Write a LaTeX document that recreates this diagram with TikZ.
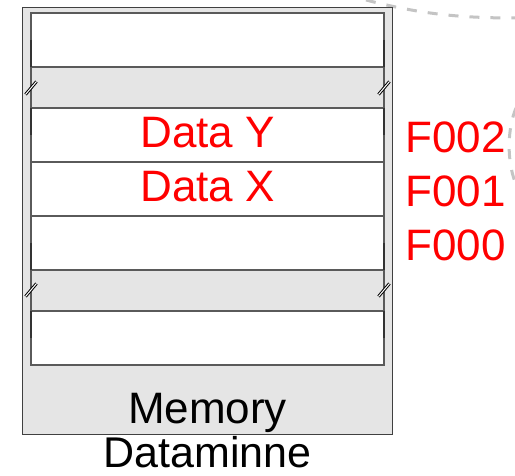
\documentclass[tikz,border=0pt]{standalone}
\usepackage{fontspec}
\setmainfont{Liberation Sans}
\usepackage{xcolor}
\usepackage{tikz}
\usetikzlibrary{positioning}

\definecolor{bandgray}{HTML}{E5E5E5}
\definecolor{edgegray}{HTML}{5A5A5A}
\definecolor{arcgray}{HTML}{C4C4C4}

\begin{document}
\begin{tikzpicture}[
  x=1pt, y=-1pt,
  every node/.style={font=\fontsize{44}{48}\selectfont, inner sep=0pt},
  cell/.style={draw=edgegray, line width=1.2pt, fill=white, minimum width=353pt, minimum height=54pt},
  band/.style={cell, fill=bandgray, draw=edgegray, minimum height=41pt},
  addr/.style={text=red, anchor=base west},
  datum/.style={text=red, anchor=base},
  brk/.style={line width=3pt},
  brkin/.style={white, line width=1pt}
]
\useasboundingbox (0,0) rectangle (515,476);

% dashed links to the rest of the figure
\draw[arcgray, line width=3pt, dash pattern=on 10pt off 11pt] (366,0) .. controls (420,14) and (460,18) .. (515,18);
\draw[arcgray, line width=3pt, dash pattern=on 10pt off 11pt] (516,108) .. controls (507,130) and (507,160) .. (515,182);

% memory block
\node[draw=black!75, line width=1.2pt, fill=bandgray, minimum width=370pt, minimum height=427pt, anchor=north west] (mem) at (22,7) {};

\node[cell] (top) at (207.5,40) {};
\node[band] (gapa) at (207.5,87.5) {};
\node[cell] (celly) at (207.5,135) {};
\node[cell] (cellx) at (207.5,189) {};
\node[cell] (cellz) at (207.5,243) {};
\node[band] (gapb) at (207.5,290.5) {};
\node[cell] (bottom) at (207.5,338) {};

% darker edges next to the breaks
\foreach \y in {40,108,243,311} {
  \draw[black!80, line width=1.8pt] (31,\y) -- ++(0,27);
  \draw[black!80, line width=1.8pt] (384,\y) -- ++(0,27);
}

% break marks
\foreach \x/\y in {31/88, 384/88, 31/290, 384/290} {
  \draw[brk] (\x-5.5,\y+6.5) -- (\x+5.5,\y-6.5);
  \draw[brkin] (\x-5.5,\y+6.5) -- (\x+5.5,\y-6.5);
}

\node[datum] (datay) at (207.5,148) {Data Y};
\node[datum] (datax) at (207.5,202) {Data X};

\node[addr] (f002) at (405,153) {F002};
\node[addr] (f001) at (405,207) {F001};
\node[addr] (f000) at (405,261) {F000};

\node[anchor=base] (memlbl) at (207.5,423) {Memory};
\node[anchor=base, font=\fontsize{43}{46}\selectfont] (dmlbl) at (207.5,467) {Dataminne};
\end{tikzpicture}
\end{document}
